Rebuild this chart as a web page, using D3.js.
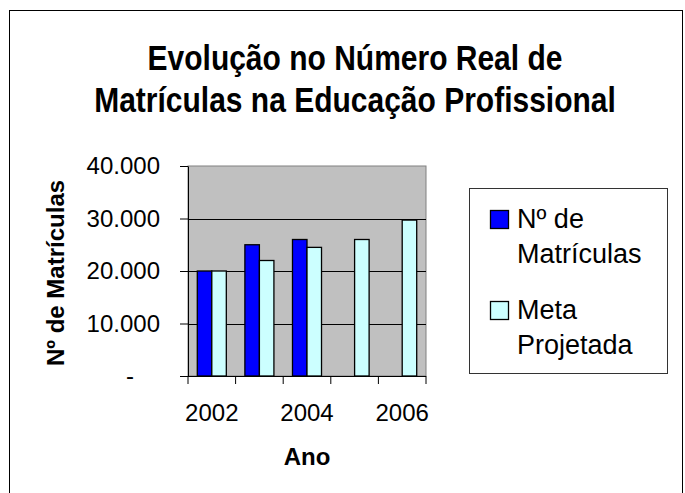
<!DOCTYPE html>
<html>
<head>
<meta charset="utf-8">
<script src="https://cdnjs.cloudflare.com/ajax/libs/d3/7.8.5/d3.min.js"></script>
<style>
  body { margin: 0; background: #fff; }
  text { font-family: "Liberation Sans", Arial, sans-serif; fill: #000; }
</style>
</head>
<body>
<div id="chart-area"></div>
<script>
// data
var years = ["2002", "2003", "2004", "2005", "2006"];
var labeledYears = ["2002", "2004", "2006"];
var seriesNames = ["Nº de Matrículas", "Meta Projetada"];
var matriculas = [20000, 25000, 26000, null, null];
var metaProjetada = [20000, 22000, 24500, 26000, 29700];
var yTicks = [0, 10000, 20000, 30000, 40000];
var titleLines = ["Evolução no Número Real de", "Matrículas na Educação Profissional"];
var legendLines = [["Nº de", "Matrículas"], ["Meta", "Projetada"]];

var colors = ["#0000ff", "#ccffff"];

var width = 685, height = 493;
var plot = {left: 188, right: 426, top: 166, bottom: 376};

var svg = d3.select("#chart-area")
  .append("svg")
  .attr("width", width)
  .attr("height", height);

// outer chart border
svg.append("rect")
  .attr("x", 9.5)
  .attr("y", 10.5)
  .attr("width", 673)
  .attr("height", 510)
  .attr("fill", "#fff")
  .attr("stroke", "#000");

// title (a bit taller than wide, like the original)
svg.selectAll(".title")
  .data(titleLines)
  .enter()
  .append("text")
  .attr("class", "title")
  .attr("transform", function(d, i) { return "translate(355," + (70 + i * 42) + ") scale(1,1.15)"; })
  .attr("text-anchor", "middle")
  .attr("font-weight", "bold")
  .attr("font-size", 30)
  .text(function(d) { return d; });

// scales
var xCat = d3.scaleBand()
  .domain(years)
  .range([plot.left, plot.right])
  .padding(0);

var xSub = d3.scaleBand()
  .domain(seriesNames)
  .range([0, xCat.bandwidth()])
  .paddingInner(0)
  .paddingOuter(0.64);

var y = d3.scaleLinear()
  .domain([0, 40000])
  .range([plot.bottom, plot.top]);

var fmt = d3.formatLocale({decimal: ",", thousands: ".", grouping: [3], currency: ["", ""]}).format(",");

// plot area
svg.append("rect")
  .attr("x", plot.left)
  .attr("y", plot.top)
  .attr("width", plot.right - plot.left)
  .attr("height", plot.bottom - plot.top)
  .attr("fill", "#c0c0c0")
  .attr("stroke", "#808080");

// gridlines
svg.append("g")
  .selectAll("line")
  .data(yTicks.filter(function(d) { return d > 0 && d < 40000; }))
  .enter()
  .append("line")
  .attr("x1", plot.left)
  .attr("x2", plot.right)
  .attr("y1", function(d) { return Math.round(y(d)) + 0.5; })
  .attr("y2", function(d) { return Math.round(y(d)) + 0.5; })
  .attr("stroke", "#000");

// bars
var series = [matriculas, metaProjetada];
series.forEach(function(values, s) {
  var rows = years.map(function(yr, i) { return {year: yr, value: values[i]}; })
    .filter(function(d) { return d.value != null; });
  svg.append("g")
    .selectAll("rect")
    .data(rows)
    .enter()
    .append("rect")
    .attr("x", function(d) { return xCat(d.year) + xSub(seriesNames[s]); })
    .attr("y", function(d) { return y(d.value); })
    .attr("width", xSub.bandwidth())
    .attr("height", function(d) { return y(0) - y(d.value); })
    .attr("fill", colors[s])
    .attr("stroke", "#000")
    .attr("stroke-width", 1.3);
});

// y axis
var yAxis = d3.axisLeft(y)
  .tickValues(yTicks)
  .tickSizeInner(8)
  .tickSizeOuter(0)
  .tickPadding(20)
  .tickFormat(function(d) { return d === 0 ? "-" : fmt(d); });

var yG = svg.append("g")
  .attr("transform", "translate(" + plot.left + ",0)")
  .call(yAxis);
yG.select(".domain").attr("stroke", "#000");
yG.selectAll("text")
  .attr("font-size", 24)
  .attr("font-family", "'Liberation Sans', Arial, sans-serif")
  .attr("dx", function(d) { return d === 0 ? -26 : 0; });

// x axis: ticks between categories
var xG = svg.append("g");
xG.append("line")
  .attr("x1", plot.left)
  .attr("x2", plot.right)
  .attr("y1", plot.bottom + 0.5)
  .attr("y2", plot.bottom + 0.5)
  .attr("stroke", "#000");
xG.selectAll(".tick")
  .data(years.concat(["end"]))
  .enter()
  .append("line")
  .attr("class", "tick")
  .attr("x1", function(d) { return d === "end" ? plot.right : xCat(d); })
  .attr("x2", function(d) { return d === "end" ? plot.right : xCat(d); })
  .attr("y1", plot.bottom)
  .attr("y2", plot.bottom + 8)
  .attr("stroke", "#000");
xG.selectAll(".label")
  .data(labeledYears)
  .enter()
  .append("text")
  .attr("class", "label")
  .attr("x", function(d) { return xCat(d) + xCat.bandwidth() / 2; })
  .attr("y", 421)
  .attr("text-anchor", "middle")
  .attr("font-size", 24)
  .text(function(d) { return d; });

// axis titles
svg.append("text")
  .attr("x", 307)
  .attr("y", 465)
  .attr("text-anchor", "middle")
  .attr("font-weight", "bold")
  .attr("font-size", 24)
  .text("Ano");

svg.append("text")
  .attr("transform", "translate(64,273) rotate(-90)")
  .attr("text-anchor", "middle")
  .attr("font-weight", "bold")
  .attr("font-size", 24)
  .text("Nº de Matrículas");

// legend
var legend = svg.append("g");
legend.append("rect")
  .attr("x", 469.5)
  .attr("y", 188.5)
  .attr("width", 198)
  .attr("height", 185)
  .attr("fill", "#fff")
  .attr("stroke", "#333");

var items = legend.selectAll(".item")
  .data(seriesNames)
  .enter()
  .append("g")
  .attr("class", "item")
  .attr("transform", function(d, i) { return "translate(0," + (i * 91) + ")"; });

items.append("rect")
  .attr("x", 490.5)
  .attr("y", 210.5)
  .attr("width", 18)
  .attr("height", 18)
  .attr("fill", function(d, i) { return colors[i]; })
  .attr("stroke", "#000")
  .attr("stroke-width", 1.3);

items.append("text")
  .attr("font-size", 27)
  .selectAll("tspan")
  .data(function(d, i) { return legendLines[i]; })
  .enter()
  .append("tspan")
  .attr("x", 517)
  .attr("y", function(d, j) { return 228 + j * 35; })
  .text(function(d) { return d; });
</script>
</body>
</html>
